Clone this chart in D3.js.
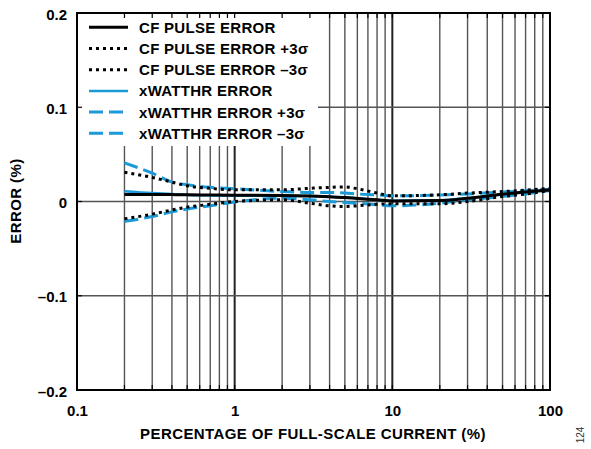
<!DOCTYPE html>
<html>
<head>
<meta charset="utf-8">
<script src="https://cdn.jsdelivr.net/npm/d3@7"></script>
<style>
  html, body { margin: 0; padding: 0; background: #fff; }
  svg { display: block; }
  text { font-family: "Liberation Sans", Arial, Helvetica, sans-serif; }
</style>
</head>
<body>
<svg id="chart" width="591" height="449"></svg>
<script>
// Percentage of full-scale current (%)
const currentPct = [0.2, 0.3, 0.4, 0.5, 0.7, 1, 2, 3, 4, 5, 6, 8, 10, 20, 30, 50, 70, 100];

// Error (%) for each series
const cfPulseError      = [0.0075, 0.0074, 0.0073, 0.0072, 0.0069, 0.0066, 0.0064, 0.0058, 0.0050, 0.0042, 0.0032, 0.0018, 0.0006, 0.0010, 0.0035, 0.0078, 0.0100, 0.0124];
const cfPulseErrorPlus  = [0.0310, 0.0255, 0.0206, 0.0167, 0.0140, 0.0124, 0.0124, 0.0140, 0.0150, 0.0155, 0.0135, 0.0090, 0.0060, 0.0071, 0.0089, 0.0106, 0.0120, 0.0140];
const cfPulseErrorMinus = [-0.0184, -0.0134, -0.0090, -0.0060, -0.0030, 0.0000, 0.0018, -0.0018, -0.0046, -0.0053, -0.0046, -0.0030, -0.0025, -0.0025, 0.0000, 0.0053, 0.0080, 0.0117];
const wattError         = [0.0110, 0.0090, 0.0080, 0.0070, 0.0065, 0.0062, 0.0062, 0.0058, 0.0052, 0.0045, 0.0035, 0.0018, 0.0008, 0.0012, 0.0035, 0.0075, 0.0098, 0.0122];
const wattErrorPlus     = [0.0410, 0.0300, 0.0206, 0.0177, 0.0150, 0.0135, 0.0106, 0.0096, 0.0096, 0.0090, 0.0080, 0.0070, 0.0060, 0.0068, 0.0080, 0.0100, 0.0115, 0.0130];
const wattErrorMinus    = [-0.0210, -0.0160, -0.0110, -0.0080, -0.0045, -0.0005, 0.0035, 0.0018, 0.0000, -0.0010, -0.0018, -0.0035, -0.0046, -0.0018, 0.0018, 0.0053, 0.0080, 0.0117];

const legendLabels = [
  "CF PULSE ERROR",
  "CF PULSE ERROR +3σ",
  "CF PULSE ERROR –3σ",
  "xWATTHR ERROR",
  "xWATTHR ERROR +3σ",
  "xWATTHR ERROR –3σ"
];

const xTickValues = [0.1, 1, 10, 100];
const xTickLabels = ["0.1", "1", "10", "100"];
const yTickValues = [-0.2, -0.1, 0, 0.1, 0.2];
const yTickLabels = ["–0.2", "–0.1", "0", "0.1", "0.2"];

const BLUE = "#1a9ad6";

const series = [
  { label: legendLabels[0], values: cfPulseError,      color: "#000", width: 3,   dash: null },
  { label: legendLabels[1], values: cfPulseErrorPlus,  color: "#000", width: 3,   dash: "3,4" },
  { label: legendLabels[2], values: cfPulseErrorMinus, color: "#000", width: 3,   dash: "3,4" },
  { label: legendLabels[3], values: wattError,         color: BLUE,   width: 2.5, dash: null },
  { label: legendLabels[4], values: wattErrorPlus,     color: BLUE,   width: 3,   dash: "14,6" },
  { label: legendLabels[5], values: wattErrorMinus,    color: BLUE,   width: 3,   dash: "14,6" }
];

const svg = d3.select("#chart");
const plotL = 77, plotR = 550, plotT = 13, plotB = 390;

const x = d3.scaleLog().domain([0.1, 100]).range([plotL, plotR]);
const y = d3.scaleLinear().domain([-0.2, 0.2]).range([plotB, plotT]);

// minor positions inside each decade
const gridX = [];
[0.1, 1, 10].forEach(d => { for (let k = 2; k <= 10; k++) gridX.push(+(d * k).toPrecision(3)); });
const isDecade = v => Math.abs(Math.log10(v) - Math.round(Math.log10(v))) < 1e-9;

// vertical grid
svg.append("g")
  .selectAll("line").data(gridX.filter(v => v < 100)).join("line")
  .attr("x1", d => x(d)).attr("x2", d => x(d))
  .attr("y1", plotT).attr("y2", plotB)
  .attr("stroke", d => isDecade(d) ? "#222" : "#555")
  .attr("stroke-width", d => isDecade(d) ? 2 : 1.4);

// horizontal grid
svg.append("g")
  .selectAll("line").data([-0.1, 0, 0.1]).join("line")
  .attr("x1", plotL).attr("x2", plotR)
  .attr("y1", d => y(d)).attr("y2", d => y(d))
  .attr("stroke", "#555").attr("stroke-width", 1.4);

// data curves
const line = d3.line()
  .x((d, i) => x(currentPct[i]))
  .y(d => y(d))
  .curve(d3.curveMonotoneX);

const drawOrder = [3, 4, 5, 0, 1, 2];
svg.append("g")
  .selectAll("path").data(drawOrder.map(i => series[i])).join("path")
  .attr("d", s => line(s.values))
  .attr("fill", "none")
  .attr("stroke", s => s.color)
  .attr("stroke-width", s => s.width)
  .attr("stroke-dasharray", s => s.dash);

// legend panel
svg.append("rect")
  .attr("x", plotL + 1).attr("y", plotT + 1)
  .attr("width", 240).attr("height", 132)
  .attr("fill", "#fff");

const legend = svg.append("g");
series.forEach((s, i) => {
  const ly = 27.3 + i * 21.2;
  legend.append("line")
    .attr("x1", 89).attr("x2", 128)
    .attr("y1", ly).attr("y2", ly)
    .attr("stroke", s.color)
    .attr("stroke-width", s.width)
    .attr("stroke-dasharray", s.dash);
  legend.append("text")
    .attr("x", 139).attr("y", ly + 5.5)
    .attr("font-size", 15).attr("font-weight", "bold")
    .attr("letter-spacing", 0.3)
    .text(s.label);
});

// inward ticks along the frame
const tickLen = 5;
const tickG = svg.append("g").attr("stroke", "#000").attr("stroke-width", 1.2);
gridX.filter(v => v < 100).forEach(v => {
  tickG.append("line").attr("x1", x(v)).attr("x2", x(v)).attr("y1", plotT).attr("y2", plotT + tickLen);
  tickG.append("line").attr("x1", x(v)).attr("x2", x(v)).attr("y1", plotB).attr("y2", plotB - tickLen);
});
[-0.1, 0, 0.1].forEach(v => {
  tickG.append("line").attr("x1", plotL).attr("x2", plotL + tickLen).attr("y1", y(v)).attr("y2", y(v));
  tickG.append("line").attr("x1", plotR).attr("x2", plotR - tickLen).attr("y1", y(v)).attr("y2", y(v));
});

// frame
svg.append("rect")
  .attr("x", plotL).attr("y", plotT)
  .attr("width", plotR - plotL).attr("height", plotB - plotT)
  .attr("fill", "none").attr("stroke", "#000").attr("stroke-width", 2);

// axes labels
const xAxis = d3.axisBottom(x).tickValues(xTickValues)
  .tickFormat((d, i) => xTickLabels[i]).tickSize(0).tickPadding(0);
const gx = svg.append("g").attr("transform", `translate(0,${plotB})`).call(xAxis);
gx.select(".domain").remove();
gx.selectAll("text")
  .attr("y", 26).attr("dy", null)
  .attr("font-size", 15).attr("font-weight", "bold")
  .attr("font-family", "Liberation Sans, Arial, sans-serif").attr("fill", "#000");

const yAxis = d3.axisLeft(y).tickValues(yTickValues)
  .tickFormat((d, i) => yTickLabels[i]).tickSize(0).tickPadding(0);
const gy = svg.append("g").attr("transform", `translate(${plotL},0)`).call(yAxis);
gy.select(".domain").remove();
gy.selectAll("text")
  .attr("x", -10).attr("dy", "0.4em")
  .attr("font-size", 15).attr("font-weight", "bold")
  .attr("font-family", "Liberation Sans, Arial, sans-serif").attr("fill", "#000");

// axis titles
svg.append("text")
  .attr("x", 313).attr("y", 439)
  .attr("text-anchor", "middle")
  .attr("font-size", 15).attr("font-weight", "bold")
  .attr("letter-spacing", 0.4)
  .text("PERCENTAGE OF FULL-SCALE CURRENT (%)");

svg.append("text")
  .attr("transform", "translate(21,201) rotate(-90)")
  .attr("text-anchor", "middle")
  .attr("font-size", 15).attr("font-weight", "bold")
  .attr("letter-spacing", 0.4)
  .text("ERROR (%)");

svg.append("text")
  .attr("transform", "translate(584,435) rotate(-90)")
  .attr("text-anchor", "middle")
  .attr("font-size", 10).attr("fill", "#333")
  .text("124");
</script>
</body>
</html>
